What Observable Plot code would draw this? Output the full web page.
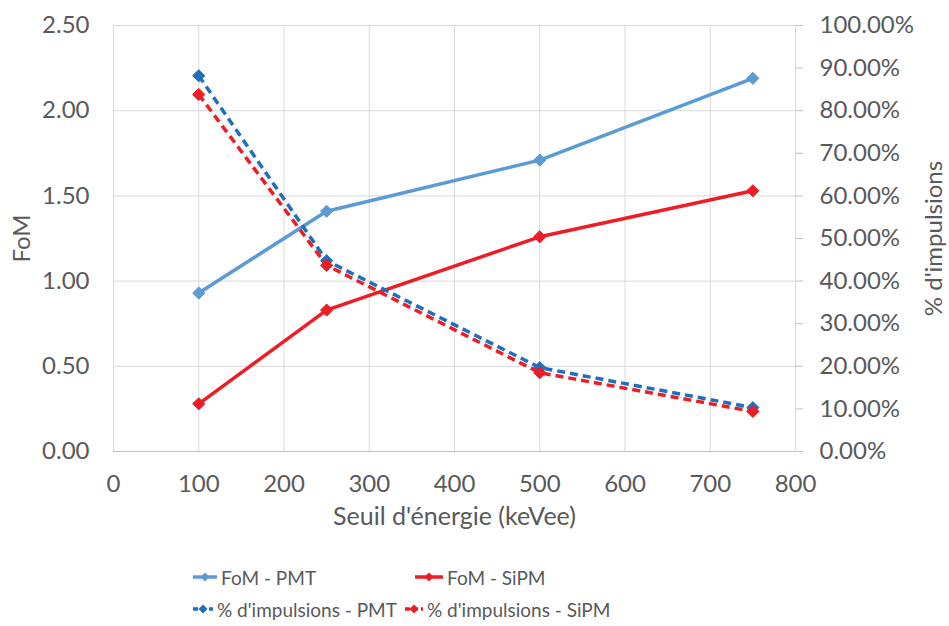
<!DOCTYPE html>
<html><head><meta charset="utf-8">
<script src="https://cdn.jsdelivr.net/npm/d3@7"></script>
<script src="https://cdn.jsdelivr.net/npm/@observablehq/plot@0.6"></script>
<style>
html,body{margin:0;padding:0;background:#fff;}
body{font-family:Lato,"Open Sans",sans-serif;position:relative;width:949px;height:626px;overflow:hidden;}
#chart svg{display:block;}
.leg{position:absolute;display:flex;align-items:center;font-size:19px;color:#595959;white-space:nowrap;line-height:1;}
.leg svg{display:block;margin-right:4px;}
</style></head>
<body>
<div id="chart"></div>
<div id="legend"></div>
<script>
// ---- data ----
const energies = [100, 250, 500, 750];
const fomPMT   = [0.93, 1.41, 1.71, 2.19];
const fomSiPM  = [0.28, 0.83, 1.26, 1.53];
const pctPMT   = [88.2, 44.8, 19.7, 10.3];   // %
const pctSiPM  = [83.8, 43.7, 18.5, 9.4];    // %
const seriesNames = ["FoM - PMT", "FoM - SiPM", "% d'impulsions - PMT", "% d'impulsions - SiPM"];
const seriesColors = ["#5B9BD5", "#EE1C25", "#1F6FBF", "#EE1C25"];
const xTicks = [0, 100, 200, 300, 400, 500, 600, 700, 800];
const fomTicks = [0, 0.5, 1.0, 1.5, 2.0, 2.5];
const pctTicks = [0, 10, 20, 30, 40, 50, 60, 70, 80, 90, 100];
const xLabel = "Seuil d'énergie (keVee)";
const yLabelLeft = "FoM";
const yLabelRight = "% d'impulsions";

// secondary axis: 100% maps to 2.5 FoM
const pctToFom = p => p * 2.5 / 100;

const seriesValues = [fomPMT, fomSiPM, pctPMT.map(pctToFom), pctSiPM.map(pctToFom)];
const table = [];
seriesNames.forEach((name, i) => {
  energies.forEach((e, j) => table.push({series: name, idx: i, x: e, y: seriesValues[i][j]}));
});

const fontFamily = "Lato, 'Open Sans', sans-serif";
const textColor = "#595959";

const marks = [
  Plot.gridX(xTicks, {stroke: "#d9d9d9", strokeOpacity: 1, strokeWidth: 1}),
  Plot.gridY(fomTicks, {stroke: "#d9d9d9", strokeOpacity: 1, strokeWidth: 1}),
  Plot.ruleY([0], {stroke: "#bfbfbf", strokeWidth: 1}),
  Plot.axisX(xTicks, {tickSize: 0, tickPadding: 23, fontSize: 24, fill: textColor, fontFamily, label: null}),
  Plot.axisX({tickSize: 0, ticks: [], fontSize: 25, fill: textColor, fontFamily,
    label: xLabel, labelAnchor: "center", labelArrow: "none", labelOffset: 73}),
  Plot.axisY(fomTicks, {anchor: "left", tickSize: 0, tickPadding: 24, fontSize: 24, fill: textColor, fontFamily,
    tickFormat: d => d.toFixed(2), label: null}),
  Plot.axisY({anchor: "left", ticks: [], tickSize: 0, fontSize: 24, fill: textColor, fontFamily,
    label: yLabelLeft, labelAnchor: "center", labelArrow: "none", labelOffset: 101}),
  Plot.axisY(pctTicks.map(pctToFom), {anchor: "right", tickSize: 7, tickPadding: 17, stroke: "#bfbfbf", fontSize: 24, fill: textColor, fontFamily,
    tickFormat: d => (d * 100 / 2.5).toFixed(2) + "%", label: null}),
  Plot.axisY({anchor: "right", ticks: [], tickSize: 0, fontSize: 24, fill: textColor, fontFamily,
    label: yLabelRight, labelAnchor: "center", labelArrow: "none", labelOffset: 146})
];
seriesNames.forEach((name, i) => {
  const rows = table.filter(d => d.idx === i);
  marks.push(Plot.line(rows, {x: "x", y: "y", stroke: seriesColors[i], strokeWidth: 3.5,
    strokeDasharray: i >= 2 ? "8,5" : null, strokeLinecap: "butt"}));
  marks.push(Plot.dot(rows, {x: "x", y: "y", symbol: "diamond2", r: 5.5, fill: seriesColors[i], stroke: seriesColors[i], strokeWidth: 1}));
});

const chart = Plot.plot({
  width: 949,
  height: 540,
  marginTop: 25,
  marginBottom: 89,
  marginLeft: 113,
  marginRight: 154,
  style: {fontFamily, background: "#fff", color: textColor, overflow: "visible"},
  x: {domain: [0, 800]},
  y: {domain: [0, 2.5]},
  marks
});
document.getElementById("chart").appendChild(chart);

// legend (HTML, below the SVG)
const legPos = [[193, 577], [415, 577], [193, 609], [405, 609]];
const legW = [24, 28, 20, 18];
const legend = document.getElementById("legend");
seriesNames.forEach((name, i) => {
  const div = document.createElement("div");
  div.className = "leg";
  const w = legW[i];
  div.style.left = legPos[i][0] + "px";
  div.style.top = (legPos[i][1] - 13) + "px";
  div.style.height = "26px";
  const c = seriesColors[i];
  const dash = i >= 2 ? `stroke-dasharray="5,3"` : "";
  div.innerHTML = `<svg width="${w}" height="14" viewBox="0 0 ${w} 14"><line x1="0" y1="7" x2="${w}" y2="7" stroke="${c}" stroke-width="3.5" ${dash}/><path d="M${w/2},2.5 L${w/2+4.5},7 L${w/2},11.5 L${w/2-4.5},7Z" fill="${c}"/></svg><span>${name}</span>`;
  legend.appendChild(div);
});
</script>
</body></html>
